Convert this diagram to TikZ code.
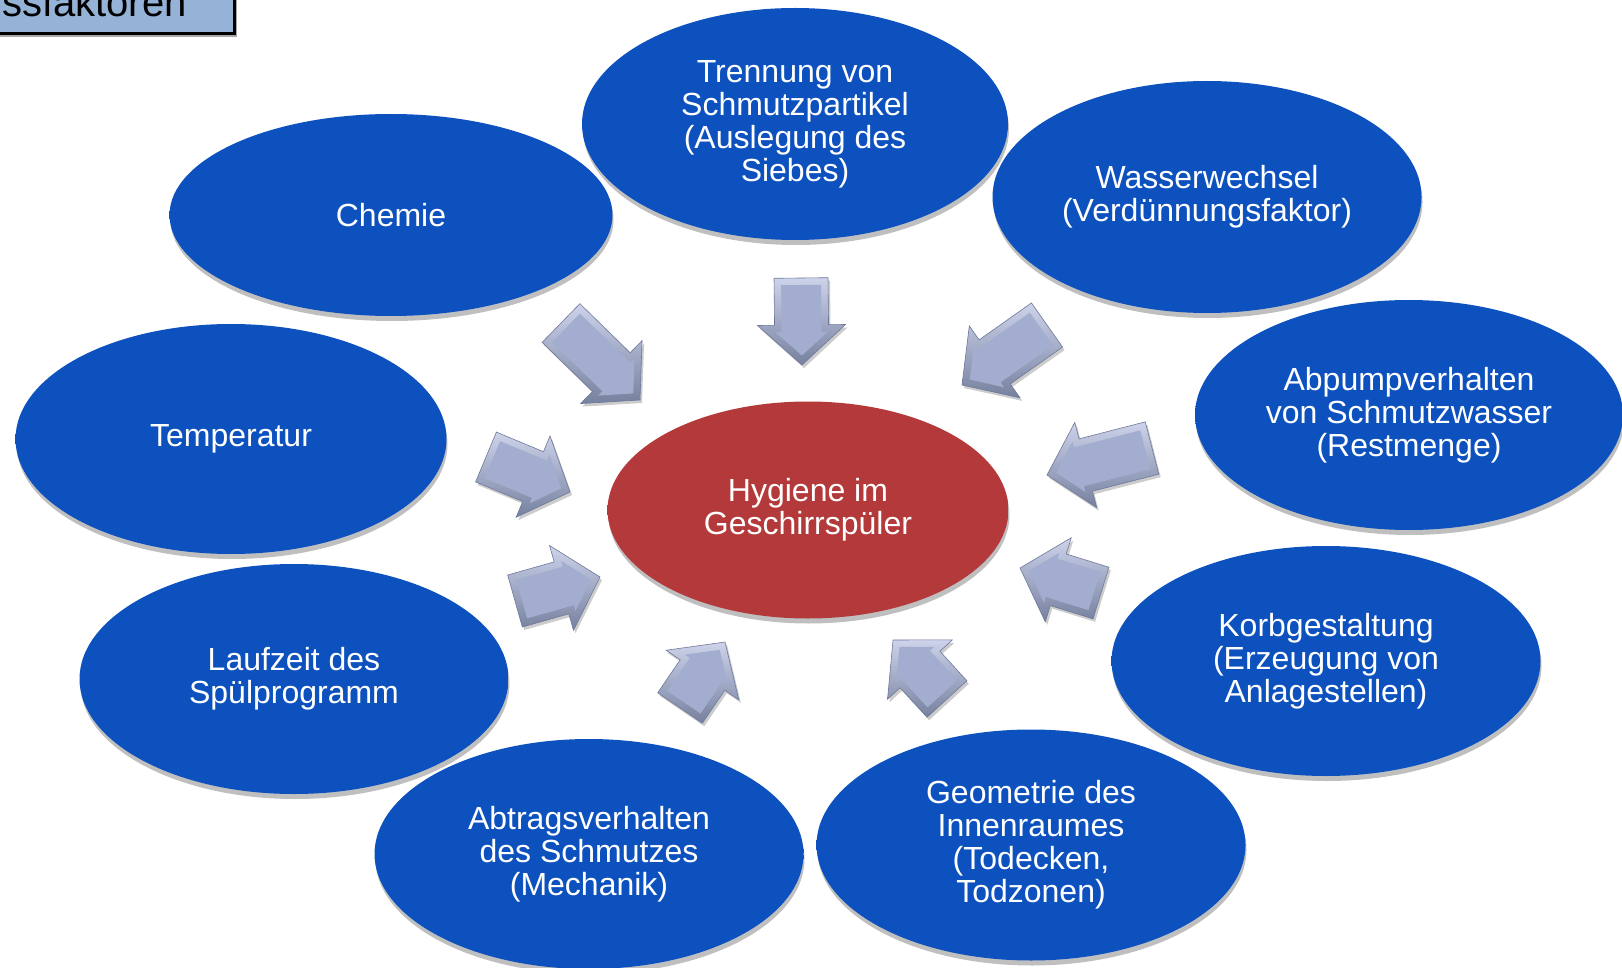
\documentclass[tikz,border=0pt]{standalone}
\usepackage{fontspec}
\setmainfont{Liberation Sans}
\usetikzlibrary{shapes.geometric,calc,shadows}
\definecolor{blueIn}{HTML}{0C51BE}
\definecolor{blueOut}{HTML}{07378F}
\definecolor{redIn}{HTML}{B3393A}
\definecolor{redOut}{HTML}{7C2020}
\definecolor{arrFace}{HTML}{A3ADCF}
\definecolor{arrLight}{HTML}{CDD3EA}
\definecolor{arrDark}{HTML}{76819F}
\definecolor{arrLine}{HTML}{6E789A}
\definecolor{titleFill}{HTML}{95B3D7}
\pgfdeclareradialshading{blueball}{\pgfpoint{0bp}{0bp}}{color(0bp)=(blueIn); color(38bp)=(blueIn); color(50bp)=(blueOut); color(100bp)=(blueOut)}
\pgfdeclareradialshading{redball}{\pgfpoint{0bp}{0bp}}{color(0bp)=(redIn); color(38bp)=(redIn); color(50bp)=(redOut); color(100bp)=(redOut)}
\tikzset{
  ovalbase/.style={ellipse, inner sep=0pt, align=center, text=white,
    font=\fontsize{32}{33}\selectfont,
    drop shadow={shadow xshift=1pt, shadow yshift=-5pt, opacity=0.25, fill=black}},
  factor/.style={ovalbase, shading=blueball},
  center/.style={ovalbase, shading=redball},
  arrowouter/.style={top color=arrLight, bottom color=arrDark, draw=arrLine, line width=0.6pt,
    drop shadow={shadow xshift=2pt, shadow yshift=-3pt, opacity=0.2, fill=black}},
  arrowinner/.style={fill=arrFace},
}
\newcommand\blockarr[3]{%
  \coordinate (#1t) at #2;
  \coordinate (#1p) at #3;
  \coordinate (#1b) at ($(#1p)!40pt!(#1t)$);
  \coordinate (#1ti) at ($(#1t)!7pt!(#1p)$);
  \coordinate (#1bi) at ($(#1b)!7pt!(#1p)$);
  \coordinate (#1pi) at ($(#1p)!9.5pt!(#1t)$);
  \path[arrowouter] ($(#1t)!27pt!90:(#1p)$) -- ($(#1b)!27pt!90:(#1p)$) -- ($(#1b)!44pt!90:(#1p)$) -- (#1p)
     -- ($(#1b)!44pt!-90:(#1p)$) -- ($(#1b)!27pt!-90:(#1p)$) -- ($(#1t)!27pt!-90:(#1p)$) -- cycle;
  \path[arrowinner] ($(#1ti)!20pt!90:(#1p)$) -- ($(#1bi)!20pt!90:(#1p)$) -- ($(#1bi)!26pt!90:(#1p)$) -- (#1pi)
     -- ($(#1bi)!26pt!-90:(#1p)$) -- ($(#1bi)!20pt!-90:(#1p)$) -- ($(#1ti)!20pt!-90:(#1p)$) -- cycle;
}
\begin{document}
\begin{tikzpicture}[x=1pt,y=-1pt]
\useasboundingbox (0,0) rectangle (1622,968);
% title box (cut off)
\fill[black!35] (-5,-5) rectangle (237,37);
\draw[fill=titleFill, line width=3pt] (-5,-5) rectangle (234,34);
\node[anchor=base east, inner sep=0pt, font=\fontsize{40}{44}\selectfont] (title) at (187,17) {ssfaktoren};
% nodes
\node[factor, minimum width=426pt, minimum height=232pt] (tren) at (795,124) {Trennung von\\Schmutzpartikel\\(Auslegung des\\Siebes)};
\node[factor, minimum width=443pt, minimum height=202pt] (chem) at (391,215) {Chemie};
\node[factor, minimum width=429pt, minimum height=232pt] (wass) at (1207,197) {Wasserwechsel\\(Verdünnungsfaktor)};
\node[factor, minimum width=428pt, minimum height=230pt] (abp) at (1409,415) {Abpumpverhalten\\von Schmutzwasser\\(Restmenge)};
\node[factor, minimum width=431pt, minimum height=230pt] (temp) at (231,439) {Temperatur};
\node[factor, minimum width=429pt, minimum height=230pt] (lauf) at (294,679) {Laufzeit des\\Spülprogramm};
\node[factor, minimum width=429pt, minimum height=230pt] (korb) at (1326,661) {Korbgestaltung\\(Erzeugung von\\Anlagestellen)};
\node[factor, minimum width=429pt, minimum height=230pt] (abtr) at (589,854) {Abtragsverhalten\\des Schmutzes\\(Mechanik)};
\node[factor, minimum width=429pt, minimum height=231pt] (geom) at (1031,845) {Geometrie des\\Innenraumes\\(Todecken,\\Todzonen)};
\node[center, minimum width=401pt, minimum height=217pt] (hyg) at (808,510) {Hygiene im\\Geschirrspüler};
% block arrows
\blockarr{a1}{(561,323)}{(640,400)}
\blockarr{a2}{(801,278)}{(802,365)}
\blockarr{a3}{(1047,325)}{(962,385)}
\blockarr{a4}{(1152,448)}{(1047,475)}
\blockarr{a5}{(1101,593)}{(1020,568)}
\blockarr{a6}{(947,699)}{(893,640)}
\blockarr{a7}{(680,708)}{(725,642)}
\blockarr{a8}{(515,601)}{(600,577)}
\blockarr{a9}{(486,457)}{(570,492)}
\end{tikzpicture}
\end{document}
